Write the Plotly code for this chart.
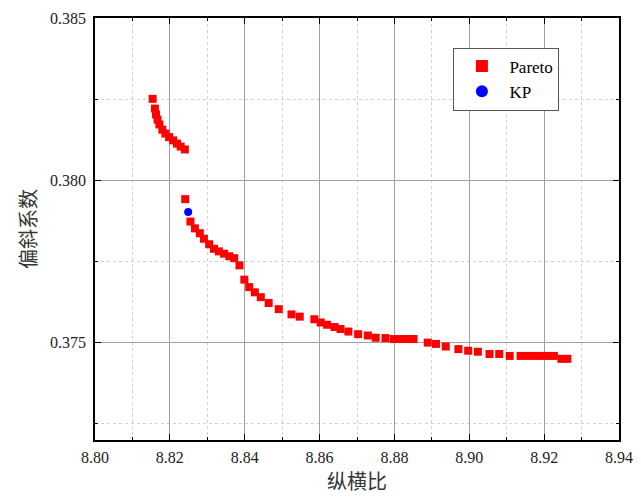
import plotly.graph_objects as go

# Pareto front (aspect ratio, skewness coefficient)
pareto_x = [8.8154, 8.8160, 8.8163, 8.8167, 8.8172, 8.8180, 8.8188, 8.8198, 8.8209, 8.8219, 8.8229, 8.8240,
            8.8241, 8.8255, 8.8267, 8.8280, 8.8291, 8.8305, 8.8318, 8.8331, 8.8345, 8.8359, 8.8372, 8.8386,
            8.8399, 8.8412, 8.8427, 8.8443, 8.8464, 8.8491, 8.8525, 8.8547, 8.8586, 8.8603, 8.8620, 8.8640,
            8.8656, 8.8677, 8.8703, 8.8729, 8.8750, 8.8776, 8.8798, 8.8817, 8.8835, 8.8851, 8.8889, 8.8911,
            8.8937, 8.8971, 8.8997, 8.9023, 8.9054, 8.9080, 8.9108, 8.9137, 8.9155, 8.9174, 8.9192, 8.9210,
            8.9226, 8.9246, 8.9262]
pareto_y = [0.38251, 0.38221, 0.38203, 0.38187, 0.38172, 0.38156, 0.38144, 0.38133, 0.38123, 0.38113, 0.38104, 0.38095,
            0.37942, 0.37873, 0.37852, 0.37837, 0.37820, 0.37803, 0.37789, 0.37781, 0.37774, 0.37766, 0.37760, 0.37738,
            0.37694, 0.37671, 0.37655, 0.37640, 0.37622, 0.37603, 0.37587, 0.37580, 0.37572, 0.37562, 0.37555, 0.37548,
            0.37542, 0.37534, 0.37526, 0.37522, 0.37515, 0.37514, 0.37511, 0.37511, 0.37511, 0.37511, 0.37500, 0.37496,
            0.37488, 0.37480, 0.37475, 0.37472, 0.37465, 0.37465, 0.37459, 0.37459, 0.37459, 0.37459, 0.37459, 0.37459,
            0.37459, 0.37450, 0.37450]
kp_x = [8.8249]
kp_y = [0.37902]

x_ticks = [8.80, 8.82, 8.84, 8.86, 8.88, 8.90, 8.92, 8.94]
y_ticks = [0.375, 0.380, 0.385]

serif = "Liberation Serif, Times New Roman, serif"
cjk = "Noto Sans CJK SC, sans-serif"

fig = go.Figure()
fig.add_trace(go.Scatter(x=pareto_x, y=pareto_y, mode="markers", name="Pareto",
                         marker=dict(symbol="square", size=8, color="#ff0000", line=dict(width=0))))
fig.add_trace(go.Scatter(x=kp_x, y=kp_y, mode="markers", name="KP",
                         marker=dict(symbol="circle", size=8, color="#0000ff", line=dict(width=0))))

axis_common = dict(
    showline=True, linecolor="black", linewidth=1.5, mirror="ticks",
    showgrid=True, gridcolor="#a0a0a0", gridwidth=1,
    ticks="inside", ticklen=6, tickcolor="black", tickwidth=1,
    tickfont=dict(family=serif, size=16, color="#222"),
    zeroline=False,
)

fig.update_xaxes(range=[8.80, 8.94], tickvals=x_ticks, ticktext=[f"{v:.2f}" for v in x_ticks],
                 ticklabelstandoff=2, ticklabeloverflow="allow",
                 minor=dict(dtick=0.01, tick0=8.80, ticks="inside", ticklen=3, tickcolor="black",
                            showgrid=True, gridcolor="#d0d0d0", griddash="dot", gridwidth=1),
                 title=dict(text="纵横比", font=dict(family=cjk, size=20, color="#333"), standoff=8),
                 **axis_common)
fig.update_yaxes(range=[0.372, 0.385], tickvals=y_ticks, ticktext=[f"{v:.3f}" for v in y_ticks],
                 ticklabelstandoff=4, ticklabeloverflow="allow",
                 minor=dict(dtick=0.0025, tick0=0.3725, ticks="inside", ticklen=3, tickcolor="black",
                            showgrid=True, gridcolor="#d0d0d0", griddash="dot", gridwidth=1),
                 title=dict(text="偏斜系数", font=dict(family=cjk, size=20, color="#333"), standoff=8),
                 **axis_common)

fig.update_layout(
    width=641, height=498,
    margin=dict(l=95, r=8, t=18, b=58),
    paper_bgcolor="white", plot_bgcolor="white",
    showlegend=True,
    legend=dict(x=0.684, y=0.93, xanchor="left", yanchor="top",
                bgcolor="white", bordercolor="#555", borderwidth=1,
                font=dict(family=serif, size=17, color="black"),
                itemsizing="constant", itemwidth=45, tracegroupgap=0),
)

# remove the default page margin so the figure fills the window exactly
fig.write_html("out.html", config={"displayModeBar": False},
               post_script="document.body.style.margin='0';")
